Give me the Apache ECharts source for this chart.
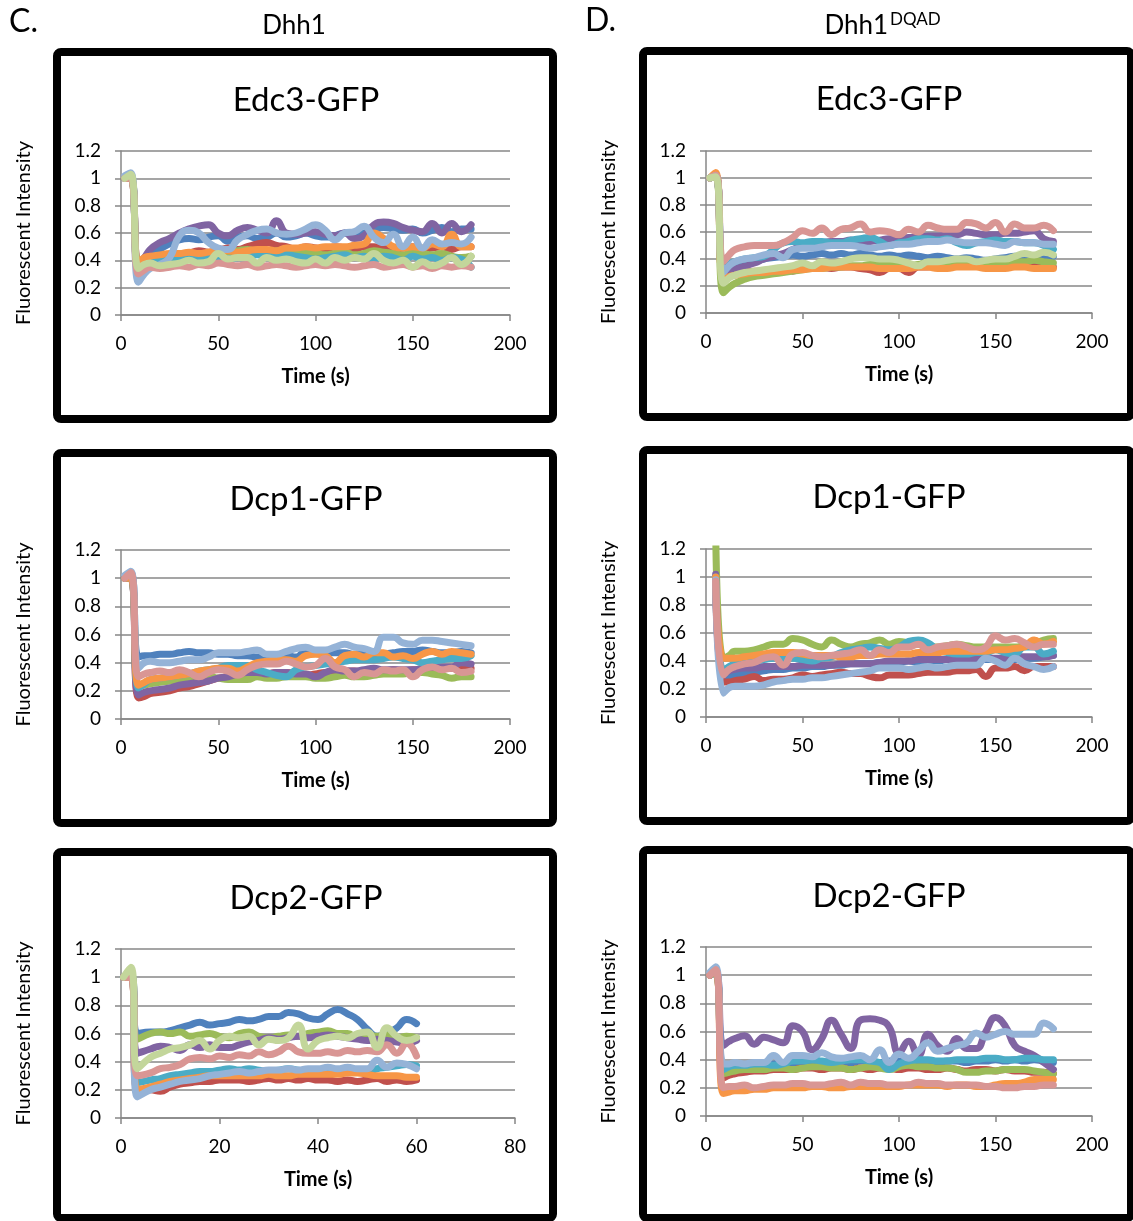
<!DOCTYPE html>
<html><head><meta charset="utf-8">
<script src="https://cdn.jsdelivr.net/npm/echarts@6/dist/echarts.min.js"></script>
<style>html,body{margin:0;padding:0;background:#fff}#c{width:1133px;height:1221px}</style>
</head><body><div id="c"></div>
<script>
// ---------- data ----------
const T180 = [2,5,9,12, 15,20,25,30,35,40,45,50,55,60, 65,70,75,80,85,90,95,100,105,110, 115,120,125,130,135,140,145,150,155,160, 165,170,175,180];
const T60 = [0.5,2,3.3, 6,8,10,12,14,16,18,20,22,24, 26,28,30,32,34,36,38,40,42,44, 46,48,50,52,54,56,58,60];
const X_TICKS_180 = [0,50,100,150,200];
const X_TICKS_80 = [0,20,40,60,80];
const Y_TICKS = [0,0.2,0.4,0.6,0.8,1,1.2];
const SERIES_NAMES = ['Cell 1','Cell 2','Cell 3','Cell 4','Cell 5','Cell 6','Cell 7','Cell 8','Cell 9'];

// Edc3-GFP, Dhh1 (series: blue, red, green, purple, cyan, orange, light blue, pink, light green)
const edc3Dhh1 = [
 [1.0,1.02,0.35,0.38, 0.42,0.48,0.52,0.55,0.56,0.55,0.57,0.58,0.54,0.57, 0.58,0.56,0.57,0.6,0.57,0.58,0.6,0.58,0.57,0.58, 0.6,0.58,0.6,0.62,0.64,0.63,0.62,0.63,0.6,0.62, 0.64,0.61,0.63,0.63],
 [1.0,1.0,0.33,0.38, 0.4,0.41,0.42,0.43,0.45,0.47,0.46,0.47,0.49,0.48, 0.5,0.52,0.53,0.51,0.5,0.48,0.5,0.49,0.48,0.5, 0.49,0.48,0.5,0.5,0.49,0.48,0.49,0.5,0.48,0.49, 0.5,0.48,0.5,0.5],
 [1.0,1.0,0.34,0.37, 0.38,0.4,0.42,0.43,0.42,0.44,0.45,0.44,0.46,0.47, 0.48,0.46,0.45,0.47,0.46,0.45,0.46,0.45,0.44,0.45, 0.46,0.44,0.45,0.47,0.46,0.45,0.44,0.46,0.45,0.44, 0.45,0.43,0.42,0.43],
 [1.0,1.01,0.38,0.42, 0.48,0.53,0.56,0.6,0.63,0.65,0.66,0.6,0.58,0.62, 0.64,0.62,0.6,0.69,0.6,0.59,0.6,0.61,0.59,0.58, 0.6,0.56,0.58,0.66,0.68,0.67,0.64,0.62,0.61,0.67, 0.6,0.67,0.61,0.66],
 [1.0,1.0,0.36,0.38, 0.39,0.4,0.41,0.4,0.42,0.41,0.42,0.4,0.41,0.42, 0.43,0.44,0.43,0.42,0.44,0.43,0.42,0.41,0.42,0.43, 0.44,0.42,0.43,0.41,0.43,0.42,0.4,0.43,0.41,0.42, 0.4,0.42,0.41,0.35],
 [1.0,1.0,0.38,0.42, 0.43,0.44,0.45,0.45,0.46,0.45,0.46,0.47,0.47,0.46, 0.47,0.48,0.48,0.47,0.49,0.49,0.5,0.49,0.5,0.5, 0.5,0.51,0.52,0.6,0.56,0.5,0.49,0.5,0.49,0.52, 0.5,0.59,0.5,0.5],
 [1.02,1.04,0.24,0.3, 0.34,0.37,0.42,0.58,0.62,0.6,0.53,0.49,0.48,0.55, 0.59,0.62,0.63,0.6,0.59,0.6,0.63,0.66,0.62,0.55, 0.6,0.61,0.65,0.57,0.53,0.59,0.5,0.57,0.49,0.55, 0.52,0.53,0.52,0.57],
 [1.0,1.0,0.3,0.33, 0.35,0.34,0.35,0.36,0.35,0.37,0.36,0.38,0.37,0.36, 0.37,0.35,0.36,0.37,0.36,0.35,0.36,0.37,0.36,0.37, 0.36,0.35,0.36,0.37,0.35,0.36,0.37,0.35,0.36,0.34, 0.36,0.35,0.36,0.35],
 [1.0,1.03,0.34,0.37, 0.38,0.36,0.37,0.38,0.4,0.38,0.39,0.45,0.41,0.42, 0.42,0.38,0.42,0.4,0.41,0.39,0.38,0.41,0.38,0.42, 0.4,0.42,0.41,0.45,0.4,0.38,0.4,0.35,0.39,0.36, 0.38,0.42,0.37,0.43]
];

// Edc3-GFP, Dhh1 DQAD
const edc3DQAD = [
 [1.0,1.02,0.3,0.33, 0.35,0.37,0.38,0.4,0.41,0.42,0.43,0.42,0.43,0.44, 0.43,0.44,0.43,0.44,0.43,0.42,0.43,0.42,0.43,0.42, 0.41,0.42,0.41,0.4,0.41,0.4,0.39,0.4,0.41,0.42, 0.41,0.42,0.41,0.42],
 [1.0,1.02,0.26,0.28, 0.29,0.3,0.31,0.31,0.32,0.32,0.31,0.33,0.33,0.34, 0.33,0.34,0.34,0.33,0.32,0.3,0.33,0.33,0.3,0.34, 0.34,0.35,0.35,0.35,0.36,0.35,0.35,0.36,0.36,0.35, 0.35,0.35,0.34,0.34],
 [1.0,1.01,0.15,0.19, 0.22,0.25,0.27,0.28,0.29,0.3,0.31,0.32,0.33,0.33, 0.34,0.34,0.35,0.35,0.36,0.36,0.36,0.35,0.35,0.36, 0.37,0.37,0.38,0.38,0.38,0.37,0.37,0.38,0.38,0.38, 0.38,0.39,0.38,0.37],
 [1.0,1.02,0.3,0.31, 0.33,0.35,0.37,0.4,0.42,0.44,0.47,0.5,0.51,0.52, 0.53,0.53,0.54,0.52,0.53,0.54,0.55,0.55,0.56,0.56, 0.57,0.57,0.58,0.58,0.6,0.59,0.58,0.58,0.59,0.59, 0.6,0.61,0.55,0.53],
 [1.0,1.02,0.32,0.36, 0.38,0.4,0.41,0.42,0.47,0.52,0.53,0.52,0.53,0.53, 0.52,0.52,0.54,0.55,0.56,0.53,0.5,0.52,0.53,0.55, 0.55,0.54,0.55,0.52,0.5,0.52,0.53,0.54,0.53,0.53, 0.52,0.52,0.5,0.47],
 [1.0,1.04,0.26,0.27, 0.28,0.29,0.3,0.3,0.31,0.31,0.32,0.32,0.33,0.33, 0.34,0.34,0.34,0.34,0.34,0.33,0.33,0.33,0.33,0.34, 0.34,0.33,0.33,0.34,0.34,0.34,0.33,0.33,0.33,0.34, 0.34,0.33,0.33,0.33],
 [1.0,1.02,0.3,0.35, 0.38,0.4,0.41,0.43,0.44,0.41,0.47,0.48,0.48,0.49, 0.5,0.5,0.5,0.49,0.48,0.49,0.5,0.51,0.51,0.52, 0.53,0.53,0.54,0.53,0.52,0.52,0.52,0.51,0.5,0.53, 0.52,0.52,0.51,0.51],
 [1.0,1.02,0.38,0.43, 0.47,0.49,0.5,0.5,0.5,0.52,0.56,0.61,0.59,0.63, 0.58,0.62,0.63,0.66,0.6,0.61,0.6,0.58,0.62,0.6, 0.65,0.63,0.62,0.62,0.67,0.66,0.63,0.67,0.6,0.66, 0.63,0.63,0.65,0.61],
 [1.0,1.01,0.22,0.26, 0.28,0.3,0.31,0.32,0.33,0.34,0.35,0.37,0.35,0.38, 0.37,0.38,0.4,0.41,0.41,0.4,0.4,0.39,0.37,0.35, 0.38,0.38,0.39,0.4,0.4,0.38,0.39,0.4,0.4,0.42, 0.44,0.43,0.45,0.43]
];

// Dcp1-GFP, Dhh1
const dcp1Dhh1 = [
 [1.0,1.04,0.44,0.45, 0.45,0.46,0.46,0.47,0.48,0.47,0.47,0.46,0.46,0.45, 0.45,0.44,0.44,0.45,0.45,0.44,0.48,0.48,0.48,0.47, 0.47,0.46,0.46,0.45,0.46,0.47,0.48,0.48,0.49,0.48, 0.47,0.47,0.48,0.47],
 [1.0,1.0,0.15,0.16, 0.18,0.19,0.2,0.22,0.23,0.25,0.27,0.29,0.3,0.31, 0.33,0.32,0.32,0.33,0.33,0.32,0.31,0.32,0.33,0.33, 0.34,0.34,0.33,0.34,0.34,0.35,0.34,0.35,0.35,0.35, 0.36,0.36,0.36,0.36],
 [1.0,1.0,0.23,0.24, 0.25,0.26,0.27,0.28,0.29,0.29,0.3,0.29,0.28,0.28, 0.28,0.3,0.29,0.29,0.3,0.3,0.3,0.29,0.29,0.3, 0.31,0.3,0.3,0.31,0.32,0.32,0.32,0.33,0.33,0.32, 0.31,0.29,0.3,0.3],
 [1.0,1.0,0.17,0.19, 0.2,0.21,0.22,0.24,0.25,0.26,0.27,0.29,0.3,0.32, 0.33,0.33,0.32,0.33,0.33,0.32,0.32,0.3,0.33,0.35, 0.34,0.34,0.35,0.36,0.35,0.35,0.35,0.35,0.36,0.37, 0.37,0.37,0.4,0.39],
 [1.0,1.0,0.22,0.25, 0.28,0.29,0.3,0.31,0.32,0.34,0.35,0.36,0.38,0.38, 0.38,0.35,0.33,0.31,0.3,0.35,0.37,0.38,0.39,0.4, 0.41,0.42,0.42,0.42,0.43,0.44,0.43,0.42,0.4,0.41, 0.42,0.43,0.43,0.45],
 [1.0,1.0,0.24,0.26, 0.28,0.29,0.3,0.31,0.32,0.34,0.35,0.36,0.36,0.34, 0.37,0.4,0.41,0.42,0.42,0.41,0.45,0.46,0.45,0.4, 0.45,0.46,0.44,0.47,0.47,0.44,0.45,0.43,0.46,0.48, 0.46,0.48,0.47,0.46],
 [1.02,1.05,0.36,0.4, 0.41,0.4,0.4,0.41,0.42,0.42,0.44,0.47,0.47,0.47, 0.48,0.49,0.46,0.46,0.48,0.5,0.51,0.49,0.49,0.51, 0.53,0.51,0.5,0.48,0.58,0.58,0.54,0.53,0.56,0.56, 0.55,0.54,0.53,0.52],
 [1.0,1.04,0.3,0.32, 0.33,0.34,0.33,0.35,0.33,0.3,0.33,0.35,0.34,0.31, 0.35,0.38,0.39,0.39,0.41,0.39,0.37,0.38,0.43,0.37, 0.35,0.3,0.33,0.32,0.35,0.34,0.35,0.3,0.35,0.37, 0.35,0.36,0.33,0.34]
];

// Dcp1-GFP, Dhh1 DQAD
const dcp1DQAD = [
 [null,1.0,0.26,0.28, 0.3,0.31,0.32,0.33,0.34,0.34,0.35,0.35,0.36,0.36, 0.37,0.37,0.38,0.38,0.38,0.39,0.39,0.39,0.4,0.39, 0.4,0.4,0.41,0.4,0.4,0.41,0.41,0.41,0.42,0.41, 0.42,0.42,0.43,0.44],
 [null,0.98,0.25,0.25, 0.26,0.27,0.29,0.26,0.27,0.27,0.28,0.3,0.29,0.3, 0.31,0.32,0.31,0.31,0.29,0.28,0.3,0.3,0.3,0.31, 0.32,0.32,0.32,0.33,0.33,0.34,0.29,0.35,0.35,0.36, 0.33,0.36,0.36,0.36],
 [null,1.35,0.42,0.44, 0.47,0.47,0.48,0.5,0.52,0.52,0.56,0.55,0.52,0.5, 0.55,0.52,0.5,0.52,0.53,0.55,0.52,0.54,0.53,0.52, 0.51,0.5,0.51,0.52,0.51,0.5,0.5,0.5,0.5,0.5, 0.51,0.52,0.55,0.56],
 [null,1.02,0.3,0.33, 0.34,0.35,0.35,0.36,0.36,0.36,0.36,0.37,0.37,0.37, 0.37,0.38,0.38,0.38,0.38,0.39,0.4,0.4,0.4,0.41, 0.41,0.41,0.41,0.41,0.41,0.42,0.42,0.42,0.42,0.43, 0.43,0.43,0.43,0.44],
 [null,1.0,0.33,0.36, 0.38,0.39,0.4,0.41,0.42,0.42,0.42,0.41,0.4,0.42, 0.43,0.46,0.48,0.49,0.5,0.49,0.48,0.5,0.54,0.55, 0.53,0.48,0.46,0.45,0.45,0.46,0.46,0.48,0.46,0.45, 0.5,0.5,0.45,0.47],
 [null,1.0,0.42,0.42, 0.42,0.43,0.44,0.45,0.46,0.46,0.46,0.45,0.44,0.44, 0.44,0.43,0.43,0.44,0.44,0.45,0.45,0.45,0.45,0.46, 0.46,0.46,0.47,0.47,0.47,0.47,0.47,0.48,0.48,0.49, 0.5,0.55,0.52,0.54],
 [null,0.98,0.17,0.21, 0.22,0.22,0.22,0.23,0.25,0.26,0.27,0.27,0.28,0.28, 0.29,0.3,0.31,0.32,0.33,0.35,0.35,0.35,0.34,0.35, 0.36,0.35,0.36,0.37,0.37,0.37,0.42,0.4,0.37,0.42, 0.38,0.36,0.34,0.36],
 [null,0.97,0.3,0.34, 0.36,0.38,0.39,0.42,0.43,0.37,0.45,0.46,0.44,0.43, 0.44,0.45,0.46,0.48,0.44,0.48,0.46,0.5,0.5,0.52, 0.48,0.5,0.51,0.52,0.5,0.48,0.5,0.58,0.55,0.56, 0.53,0.5,0.52,0.52]
];

// Dcp2-GFP, Dhh1 (0-60 s)
const dcp2Dhh1 = [
 [1.0,1.03,0.6, 0.61,0.61,0.62,0.64,0.66,0.68,0.66,0.67,0.68,0.7, 0.69,0.7,0.72,0.72,0.75,0.74,0.71,0.7,0.74,0.77, 0.74,0.7,0.63,0.58,0.6,0.64,0.7,0.67],
 [1.0,1.0,0.2, 0.2,0.19,0.22,0.24,0.25,0.26,0.26,0.27,0.27,0.27, 0.26,0.27,0.28,0.27,0.28,0.27,0.28,0.27,0.27,0.26, 0.27,0.26,0.27,0.28,0.26,0.27,0.26,0.27],
 [1.0,1.02,0.56, 0.6,0.61,0.6,0.61,0.58,0.59,0.6,0.58,0.57,0.6, 0.61,0.58,0.57,0.58,0.59,0.58,0.6,0.61,0.62,0.6, 0.6,0.57,0.59,0.58,0.59,0.57,0.58,0.57],
 [1.0,1.02,0.46, 0.49,0.51,0.5,0.48,0.52,0.5,0.52,0.5,0.5,0.52, 0.54,0.55,0.57,0.56,0.57,0.58,0.57,0.58,0.59,0.58, 0.57,0.56,0.55,0.56,0.55,0.54,0.53,0.55],
 [1.0,1.0,0.25, 0.27,0.28,0.3,0.31,0.32,0.33,0.33,0.34,0.35,0.34, 0.35,0.34,0.33,0.34,0.35,0.34,0.33,0.34,0.35,0.34, 0.33,0.34,0.33,0.35,0.36,0.37,0.38,0.37],
 [1.0,1.0,0.2, 0.22,0.24,0.26,0.27,0.28,0.29,0.3,0.3,0.3,0.3, 0.3,0.3,0.31,0.3,0.3,0.31,0.31,0.31,0.31,0.31, 0.32,0.32,0.31,0.3,0.3,0.3,0.29,0.29],
 [1.0,1.03,0.15, 0.2,0.22,0.24,0.26,0.27,0.28,0.3,0.31,0.32,0.33, 0.32,0.33,0.34,0.34,0.35,0.34,0.35,0.35,0.36,0.35, 0.36,0.35,0.35,0.41,0.36,0.39,0.38,0.35],
 [1.0,1.0,0.3, 0.32,0.35,0.36,0.38,0.42,0.43,0.42,0.44,0.43,0.45, 0.44,0.47,0.45,0.47,0.51,0.47,0.46,0.46,0.47,0.46, 0.48,0.47,0.48,0.47,0.52,0.46,0.53,0.44],
 [1.0,1.07,0.35, 0.43,0.46,0.49,0.5,0.52,0.55,0.49,0.55,0.58,0.57, 0.58,0.52,0.56,0.55,0.57,0.66,0.49,0.55,0.57,0.58, 0.57,0.6,0.61,0.5,0.64,0.58,0.55,0.57]
];

// Dcp2-GFP, Dhh1 DQAD
const dcp2DQAD = [
 [1.0,1.04,0.32,0.34, 0.35,0.36,0.36,0.37,0.37,0.38,0.38,0.38,0.39,0.38, 0.39,0.39,0.38,0.39,0.39,0.38,0.39,0.39,0.38,0.39, 0.39,0.38,0.39,0.39,0.38,0.39,0.39,0.4,0.39,0.4, 0.39,0.4,0.39,0.38],
 [1.0,1.02,0.27,0.29, 0.3,0.31,0.32,0.32,0.33,0.33,0.33,0.34,0.34,0.33, 0.34,0.34,0.33,0.34,0.33,0.34,0.34,0.33,0.34,0.34, 0.33,0.33,0.34,0.33,0.32,0.33,0.33,0.32,0.33,0.32, 0.32,0.31,0.31,0.3],
 [1.0,1.02,0.3,0.31, 0.32,0.33,0.33,0.33,0.34,0.34,0.33,0.34,0.35,0.35, 0.34,0.34,0.33,0.34,0.35,0.34,0.33,0.35,0.36,0.35, 0.35,0.34,0.34,0.33,0.31,0.31,0.32,0.32,0.33,0.33, 0.33,0.32,0.31,0.3],
 [1.0,1.03,0.5,0.53, 0.55,0.57,0.51,0.56,0.54,0.52,0.64,0.6,0.47,0.55, 0.68,0.58,0.48,0.68,0.69,0.68,0.63,0.45,0.53,0.43, 0.58,0.5,0.46,0.55,0.48,0.48,0.6,0.7,0.64,0.5, 0.46,0.43,0.38,0.33],
 [1.0,1.02,0.33,0.35, 0.36,0.36,0.37,0.37,0.36,0.37,0.39,0.39,0.4,0.39, 0.38,0.39,0.4,0.4,0.39,0.38,0.33,0.37,0.39,0.4, 0.4,0.39,0.39,0.4,0.4,0.4,0.41,0.41,0.4,0.4, 0.41,0.41,0.4,0.4],
 [1.0,1.03,0.16,0.17, 0.18,0.18,0.19,0.19,0.2,0.2,0.2,0.2,0.21,0.21, 0.2,0.2,0.21,0.21,0.21,0.21,0.21,0.21,0.22,0.22, 0.22,0.22,0.21,0.22,0.22,0.21,0.21,0.22,0.23,0.23, 0.24,0.26,0.26,0.26],
 [1.02,1.06,0.37,0.37, 0.38,0.37,0.38,0.38,0.43,0.38,0.43,0.43,0.42,0.45, 0.42,0.41,0.42,0.43,0.4,0.47,0.38,0.44,0.41,0.46, 0.52,0.46,0.48,0.5,0.52,0.59,0.56,0.58,0.6,0.58, 0.58,0.58,0.66,0.62],
 [1.0,1.04,0.2,0.21, 0.21,0.22,0.2,0.21,0.22,0.22,0.23,0.23,0.22,0.22, 0.23,0.24,0.22,0.24,0.23,0.23,0.22,0.22,0.22,0.24, 0.23,0.23,0.22,0.22,0.22,0.22,0.21,0.21,0.2,0.2, 0.21,0.21,0.22,0.22]
];

// ---------- layout / style ----------
const FONT = 'Lato';
const COLORS = ['#4F81BD','#C0504D','#9BBB59','#8064A2','#4BACC6','#F79646','#95B3D7','#D99694','#C3D69B'];
const panels = [
  {title:'Edc3-GFP', vals:edc3Dhh1, t:T180, ticks:X_TICKS_180, grid:{left:121,top:151,width:389,height:164}, box:[53,48,504,375], tt:[306,100]},
  {title:'Edc3-GFP', vals:edc3DQAD, t:T180, ticks:X_TICKS_180, grid:{left:706,top:151,width:386,height:162}, box:[639,47,496,374], tt:[889,99]},
  {title:'Dcp1-GFP', vals:dcp1Dhh1, t:T180, ticks:X_TICKS_180, grid:{left:121,top:550,width:389,height:169}, box:[53,449,504,378], tt:[306,499]},
  {title:'Dcp1-GFP', vals:dcp1DQAD, t:T180, ticks:X_TICKS_180, grid:{left:706,top:549,width:386,height:168}, box:[639,446,496,379], tt:[889,497]},
  {title:'Dcp2-GFP', vals:dcp2Dhh1, t:T60, ticks:X_TICKS_80, grid:{left:121,top:949,width:394,height:169}, box:[53,848,504,374], tt:[306,898]},
  {title:'Dcp2-GFP', vals:dcp2DQAD, t:T180, ticks:X_TICKS_180, grid:{left:706,top:947,width:386,height:169}, box:[639,846,496,376], tt:[889,896]}
];

const grids=[], xAxes=[], yAxes=[], series=[], graphics=[];
panels.forEach((p,i)=>{
  grids.push(Object.assign({}, p.grid));
  const tk = p.ticks;
  xAxes.push({
    type:'value', gridIndex:i, min:tk[0], max:tk[tk.length-1], interval:tk[1]-tk[0],
    name:'Time (s)', nameLocation:'middle', nameGap:52,
    nameTextStyle:{fontFamily:FONT, fontSize:20, fontWeight:'bold', color:'#000'},
    axisLine:{show:true, onZero:false, lineStyle:{color:'#878787', width:1.5}},
    axisTick:{show:true, length:6, lineStyle:{color:'#878787', width:1.5}},
    axisLabel:{fontFamily:FONT, fontSize:19, color:'#000', margin:19},
    splitLine:{show:false}
  });
  yAxes.push({
    type:'value', gridIndex:i, min:Y_TICKS[0], max:Y_TICKS[Y_TICKS.length-1], interval:0.2,
    name:'Fluorescent Intensity', nameLocation:'middle', nameGap:87,
    nameTextStyle:{fontFamily:FONT, fontSize:20, color:'#000'},
    axisLine:{show:true, lineStyle:{color:'#878787', width:1.5}},
    axisTick:{show:true, length:6, lineStyle:{color:'#878787', width:1.5}},
    axisLabel:{fontFamily:FONT, fontSize:19, color:'#000', margin:20},
    splitLine:{show:true, lineStyle:{color:'#878787', width:1.5}}
  });
  p.vals.forEach((v,k)=>{
    series.push({
      type:'line', name:SERIES_NAMES[k], xAxisIndex:i, yAxisIndex:i,
      data:p.t.map((t,j)=>[t, v[j]]),
      smooth:0.5, symbol:'none', showSymbol:false, clip:true,
      lineStyle:{color:COLORS[k], width:7, cap:'round', join:'round'},
      itemStyle:{color:COLORS[k]}, emphasis:{disabled:true}
    });
  });
  const b = p.box;
  graphics.push({type:'rect', shape:{x:b[0]+4, y:b[1]+4, width:b[2]-8, height:b[3]-8, r:4},
    style:{fill:null, stroke:'#000', lineWidth:8}, silent:true, z:0});
  graphics.push({type:'text', x:p.tt[0], y:p.tt[1],
    style:{text:p.title, font:'33px '+FONT, fill:'#000', align:'center', verticalAlign:'middle'}});
});
graphics.push({type:'text', x:9, y:22, style:{text:'C.', font:'32px '+FONT, fill:'#000', align:'left', verticalAlign:'middle'}});
graphics.push({type:'text', x:585, y:21, style:{text:'D.', font:'32px '+FONT, fill:'#000', align:'left', verticalAlign:'middle'}});
graphics.push({type:'text', x:294, y:26, style:{text:'Dhh1', font:'26px '+FONT, fill:'#000', align:'center', verticalAlign:'middle'}});
graphics.push({type:'text', x:888, y:26, style:{text:'Dhh1', font:'26px '+FONT, fill:'#000', align:'right', verticalAlign:'middle'}});
graphics.push({type:'text', x:890, y:20, style:{text:'DQAD', font:'17px '+FONT, fill:'#000', align:'left', verticalAlign:'middle'}});

const chart = echarts.init(document.getElementById('c'), null, {renderer:'canvas'});
chart.setOption({
  animation:false, backgroundColor:'#fff',
  grid:grids, xAxis:xAxes, yAxis:yAxes, series:series, graphic:graphics
});
</script></body></html>
